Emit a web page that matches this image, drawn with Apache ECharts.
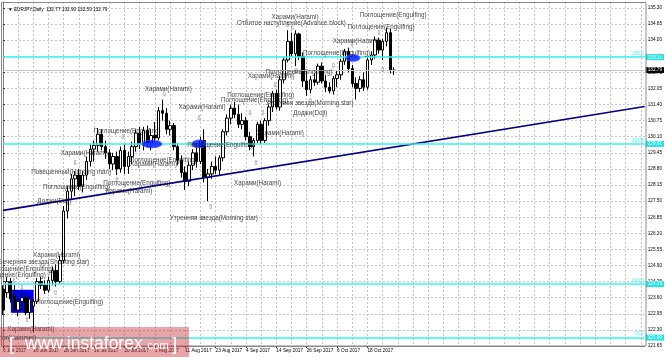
<!DOCTYPE html>
<html><head><meta charset="utf-8">
<script src="https://cdn.jsdelivr.net/npm/echarts@6/dist/echarts.min.js"></script>
<style>html,body{margin:0;padding:0;background:#fff}#c{width:665px;height:357px}</style>
</head><body><div id="c"></div>
<script>
// ---- trading days (categories) ----
const junDays = [6,7,8,9,12,13,14,15,16,19,20,21,22,23,26,27,28,29,30];
const julDays = [3,4,5,6,7,10,11,12,13,14,17,18,19,20,21,24,25,26,27,28,31];
const augDays = [1,2,3,4,7,8,9,10,11,14,15,16,17,18,21,22,23,24,25,28,29,30,31];
const sepDays = [1,4,5,6,7,8,11,12,13,14,15,18,19,20,21,22,25,26,27,28,29];
const octDays = [2,3,4,5,6,9,10,11,12,13,16,17,18,19,20,23,24,25,26,27];

// ---- OHLC ----
const open = [123.95,123.80,124.25,123.70,123.10,123.45,123.60,123.00,123.25,123.45,
124.25,124.10,123.90,124.30,124.70,124.25,125.10,127.10,127.90,128.40,
128.55,128.10,128.55,129.10,129.60,129.75,130.20,129.70,129.45,129.00,
129.30,128.80,129.55,128.90,129.30,129.70,130.25,129.80,130.35,129.85,
130.15,130.05,131.15,131.05,130.40,130.55,129.70,129.15,128.65,128.30,
128.95,129.45,129.10,129.95,128.45,128.60,128.90,128.75,129.25,130.30,
130.85,131.25,131.00,130.60,130.75,130.10,129.70,129.95,130.60,129.95,
130.75,131.30,131.85,131.30,132.40,133.20,133.95,133.45,134.25,133.35,
132.35,132.00,132.40,132.30,132.95,132.35,132.10,131.95,132.45,132.60,
133.15,133.55,132.85,132.25,132.05,132.40,132.10,133.20,133.40,134.00,
133.60,133.95,134.30,132.77];
const high = [124.10,124.45,124.40,124.10,123.60,123.85,123.80,123.70,123.55,124.40,
124.45,124.30,124.45,124.85,124.95,125.30,127.30,128.10,128.60,128.70,
128.80,128.70,129.30,129.80,129.95,130.45,130.40,129.95,129.60,129.45,
129.50,129.70,129.80,129.50,129.90,130.40,130.50,130.50,130.55,130.40,
130.70,131.30,131.60,131.25,130.75,130.65,129.85,129.35,128.90,129.10,
129.60,129.85,130.10,130.40,128.80,129.10,129.30,129.35,130.40,131.00,
131.40,131.50,131.40,131.05,130.90,130.30,130.05,130.70,130.75,130.85,
131.40,131.95,132.00,132.55,133.30,134.40,134.30,134.40,134.30,133.50,
132.80,132.55,132.65,133.05,133.10,132.60,132.30,132.55,132.75,133.25,
133.65,133.70,133.00,132.50,132.55,132.70,133.30,133.55,134.15,134.10,
134.05,134.50,134.45,132.90];
const low = [122.90,123.60,123.40,123.00,122.85,123.10,122.90,122.75,122.20,123.35,
123.95,123.75,123.80,124.10,124.05,124.15,125.00,126.80,127.60,127.70,
127.95,127.85,128.35,128.90,129.10,129.50,129.55,129.20,128.80,128.75,
128.55,128.65,128.60,128.60,129.00,129.50,129.60,129.55,129.70,129.55,
129.90,129.95,130.75,130.20,130.15,129.55,128.95,128.45,127.95,128.10,
128.75,128.85,129.00,128.25,127.50,128.40,128.60,128.55,129.10,130.15,
130.60,130.85,130.45,130.40,129.95,129.55,129.30,129.85,129.80,129.85,
130.55,131.10,131.20,131.15,132.25,133.10,133.35,132.95,133.20,132.10,
131.75,131.85,132.15,132.20,132.25,131.90,131.85,131.80,132.10,132.40,
133.00,132.70,132.10,131.60,131.90,131.95,132.00,133.00,133.25,133.45,
133.20,133.75,132.65,132.59];
const close = [123.10,124.25,123.55,123.10,123.45,123.60,123.00,123.55,123.45,124.25,
124.10,123.90,124.30,124.70,124.25,125.10,127.10,127.90,128.40,128.55,
128.10,128.55,129.10,129.60,129.75,130.20,129.70,129.45,129.00,129.30,
128.80,129.55,128.90,129.30,129.70,130.25,129.80,130.35,129.85,130.15,
130.05,131.15,131.05,130.40,130.55,129.70,129.15,128.65,128.30,128.95,
129.45,129.10,129.95,128.45,128.60,128.90,128.75,129.25,130.30,130.85,
131.25,131.00,130.60,130.75,130.10,129.70,129.95,130.60,129.95,130.75,
131.30,131.85,131.30,132.40,133.20,133.95,133.45,134.25,133.35,132.35,
132.00,132.40,132.30,132.95,132.35,132.10,131.95,132.45,132.60,133.15,
133.55,132.85,132.25,132.05,132.40,132.10,133.20,133.40,134.00,133.60,
133.95,134.30,132.78,132.79];

// ---- levels & drawn objects (price / bar-index units) ----
const fibLevels = [121.99, 124.15, 129.81, 133.31];
const fibRatios = ['76.4', '100.0', '161.8', '200.0'];
const bidPrice = 132.79;
const trendLine = [[0, 127.126], [169, 131.32]];
const blueRect = [[2.08, 123.92], [8.07, 122.99]];
const ellipses = [[39.2, 129.81], [51.6, 129.81], [92.2, 133.28]];

// ---- pattern annotations [text, bar index, price] ----
const notes = [
 ['Харами(Harami)', 70.6, 134.94],
 ['Отбитое наступление(Advance block)', 61.5, 134.69],
 ['Поглощение(Engulfing)', 93.8, 135.02],
 ['Поглощение(Engulfing)', 90.6, 134.53],
 ['Харами(Harami)', 86.7, 133.97],
 ['Поглощение(Engulfing)', 78.9, 133.48],
 ['Поглощение(Engulfing)', 69.0, 132.72],
 ['Харами(Harami)', 64.3, 132.55],
 ['Поглощение(Engulfing)', 58.9, 131.79],
 ['Поглощение(Engulfing)', 57.3, 131.59],
 ['Утренняя звезда(Morning star)', 69.0, 131.46],
 ['Доджи(Doji)', 76.3, 131.06],
 ['Харами(Harami)', 66.7, 130.25],
 ['Поглощение(Engulfing)', 48.4, 129.77],
 ['Харами(Harami)', 60.7, 128.23],
 ['Утренняя звезда(Morning star)', 43.8, 126.82],
 ['Харами(Harami)', 37.2, 132.03],
 ['Харами(Harami)', 46.1, 131.30],
 ['Поглощение(Engulfing)', 33.3, 129.16],
 ['Харами(Harami)', 33.3, 128.99],
 ['Поглощение(Engulfing)', 23.7, 130.33],
 ['Харами(Harami)', 15.1, 129.45],
 ['Повешенный(Hanging man)', 7.3, 128.68],
 ['Поглощение(Engulfing)', 26.3, 128.23],
 ['Харами(Harami)', 26.8, 127.91],
 ['Поглощение(Engulfing)', 10.4, 128.07],
 ['Доджи(Doji)', 8.9, 127.51],
 ['Харами(Harami)', 7.8, 125.33],
 ['Вечерняя звезда(Shooting star)', -1.3, 125.05],
 ['Поглощение(Engulfing)', -4.4, 124.76],
 ['Поглощение(Engulfing)', -6.5, 124.52],
 ['Поглощение(Engulfing)', 8.6, 123.43],
 ['Харами(Harami)', 1.0, 122.34],
 ['Молот(Hammer)', -3.7, 121.98]
];
const arrowsDown = [[2.9,124.28],[5,124.0],[12,124.6],[19,129.04],[31.5,130.09],[42.5,131.8],[51.6,130.86],[65.1,131.06],[68.5,131.06],[71.6,132.19],[75,134.6],[76.2,134.5],[87,132.96],[91.9,133.85],[99,134.29]];
const arrowsUp = [[6.3,122.7],[13.8,123.79],[30,128.35],[54.7,127.25],[66.7,129.04],[77.2,132.75],[81,131.55],[100,132.8]];

// ---- build ----
const mon = [['Jun',junDays],['Jul',julDays],['Aug',augDays],['Sep',sepDays],['Oct',octDays]];
const dates = [];
mon.forEach(([m, ds]) => ds.forEach(d => dates.push(d + ' ' + m + ' 2017')));
const NCAT = 170;
const cats = dates.slice();
for (let i = dates.length; i < NCAT; i++) cats.push('_' + i);
const candles = dates.map((d, i) => [open[i], close[i], low[i], high[i]]);
const last = dates.length - 1;

const FF = '"Liberation Sans", Arial, sans-serif';
const AXF = 4.7, NOTEF = 6.3;
const CYAN = '#30f5f5';
const GRIDC = '#c4c4c4';
const WMF = '"Liberation Sans", Arial, sans-serif';

const chart = echarts.init(document.getElementById('c'), null, {renderer: 'canvas'});
chart.setOption({
  animation: false,
  backgroundColor: '#ffffff',
  title: {
    text: '▼ EURJPY,Daily  ' + [open[last], high[last], low[last], close[last]].map(v => v.toFixed(2)).join(' '),
    left: 3, top: 2,
    textStyle: {fontSize: AXF, fontWeight: 'normal', color: '#000', fontFamily: FF}
  },
  grid: {left: -3, right: 19, top: 2, bottom: 11, show: false},
  xAxis: [{
    type: 'category', data: cats, boundaryGap: false,
    axisLine: {show: true, lineStyle: {color: '#808080', width: 1}},
    axisTick: {show: true, length: 2, interval: (i) => i % 8 === 0 && i < dates.length, lineStyle: {color: '#333'}},
    axisLabel: {interval: (i) => i % 8 === 0 && i < dates.length, align: 'left', margin: 2,
      fontSize: AXF, color: '#000', fontFamily: FF},
    splitLine: {show: true, interval: (i) => i % 4 === 0, lineStyle: {color: GRIDC, type: [2, 2], width: 1}}
  }, {
    type: 'value', min: 0, max: NCAT - 1, show: false
  }],
  yAxis: {
    type: 'value', position: 'right', min: 121.65, max: 135.54, interval: 0.65,
    axisLine: {show: true, lineStyle: {color: '#808080'}},
    axisTick: {show: true, length: 2, lineStyle: {color: '#333'}},
    axisLabel: {fontSize: AXF, color: '#000', margin: 3, showMaxLabel: false, showMinLabel: true,
      fontFamily: FF, formatter: v => v.toFixed(2)},
    splitLine: {show: true, lineStyle: {color: GRIDC, type: [2, 2], width: 1}}
  },
  series: [
    { // background rectangle object
      type: 'scatter', xAxisIndex: 1, data: [], silent: true, z: 1,
      markArea: {silent: true, itemStyle: {color: '#0000ff'},
        data: [[{xAxis: blueRect[0][0], yAxis: blueRect[0][1]}, {xAxis: blueRect[1][0], yAxis: blueRect[1][1]}]]}
    },
    {
      type: 'candlestick', xAxisIndex: 0, data: candles, barWidth: 3, silent: true, z: 3,
      itemStyle: {color: '#ffffff', color0: '#000000', borderColor: '#000000', borderColor0: '#000000', borderWidth: 1}
    },
    { // trend line
      type: 'line', xAxisIndex: 1, data: trendLine, symbol: 'none', silent: true, z: 4,
      lineStyle: {color: '#000080', width: 1.6}
    },
    { // fibonacci levels with ratio text
      type: 'line', xAxisIndex: 1, data: [], silent: true, z: 4,
      markLine: {silent: true, symbol: ['none', 'none'], animation: false,
        lineStyle: {color: CYAN, width: 1.6, type: 'solid'},
        label: {show: true, position: 'insideEndTop', color: CYAN, fontSize: AXF, distance: [1, 1], fontFamily: FF},
        data: fibLevels.map((v, i) => ({yAxis: v, label: {formatter: fibRatios[i]}}))}
    },
    { // price boxes on the price scale + bid line
      type: 'line', xAxisIndex: 1, data: [], silent: true, z: 6,
      markLine: {silent: true, symbol: ['none', 'none'], animation: false,
        lineStyle: {color: 'rgba(0,0,0,0)', width: 0},
        label: {show: true, position: 'end', distance: 1, color: '#fff', backgroundColor: '#22e6e6',
          padding: [1, 2, 0, 2], fontSize: AXF, fontFamily: FF, formatter: p => p.value.toFixed(2)},
        data: fibLevels.map(v => ({yAxis: v})).concat([{yAxis: bidPrice,
          lineStyle: {color: '#c8c8c8', width: 1, type: 'solid'},
          label: {backgroundColor: '#000', color: '#fff'}}])}
    },
    { // ellipse objects
      type: 'scatter', xAxisIndex: 1, silent: true, z: 5,
      data: ellipses, symbol: 'circle',
      symbolSize: (v, p) => [[20, 8], [14, 8], [14, 7]][p.dataIndex],
      itemStyle: {color: '#0010ff', borderColor: '#4a6cff', borderWidth: 0.8}
    },
    { // down arrows
      type: 'scatter', xAxisIndex: 1, silent: true, z: 7, clip: false,
      data: arrowsDown, symbolSize: 1, itemStyle: {color: 'rgba(0,0,0,0)'},
      label: {show: true, position: 'inside', formatter: '⇩', fontSize: 7, color: '#555', fontFamily: '"DejaVu Sans", sans-serif'}
    },
    { // up arrows
      type: 'scatter', xAxisIndex: 1, silent: true, z: 7, clip: false,
      data: arrowsUp, symbolSize: 1, itemStyle: {color: 'rgba(0,0,0,0)'},
      label: {show: true, position: 'inside', formatter: '⇧', fontSize: 7, color: '#555', fontFamily: '"DejaVu Sans", sans-serif'}
    },
    { // pattern texts
      type: 'scatter', xAxisIndex: 1, silent: true, z: 7, clip: false,
      data: notes.map(n => ({name: n[0], value: [n[1], n[2]]})),
      symbolSize: 1, itemStyle: {color: 'rgba(0,0,0,0)'},
      label: {show: true, position: 'right', distance: 0, formatter: p => p.name,
        fontSize: NOTEF, color: '#111', fontFamily: FF}
    }
  ],
  graphic: [
    {type: 'rect', shape: {x: 1.5, y: 2.5, width: 644.5, height: 343.5}, style: {fill: 'none', stroke: '#8a8a8a', lineWidth: 1}, z: 50, silent: true},
    {type: 'rect', shape: {x: 0, y: 327, width: 189, height: 30}, style: {fill: 'rgba(200,40,48,0.42)'}, z: 60, silent: true},
    {type: 'text', x: 9, y: 345, z: 61, silent: true, style: {text: '[', fill: '#fff', font: '19px ' + WMF, verticalAlign: 'middle'}},
    {type: 'text', x: 25, y: 344, z: 61, silent: true, style: {text: 'www.instaforex', fill: '#fff', font: '17.5px ' + WMF, verticalAlign: 'middle'}},
    {type: 'text', x: 144, y: 346, z: 61, silent: true, style: {text: '.com', fill: '#fff', font: '11.5px ' + WMF, verticalAlign: 'middle'}},
    {type: 'text', x: 172, y: 345, z: 61, silent: true, style: {text: ']', fill: '#fff', font: '19px ' + WMF, verticalAlign: 'middle'}}
  ]
});
</script>
</body></html>
